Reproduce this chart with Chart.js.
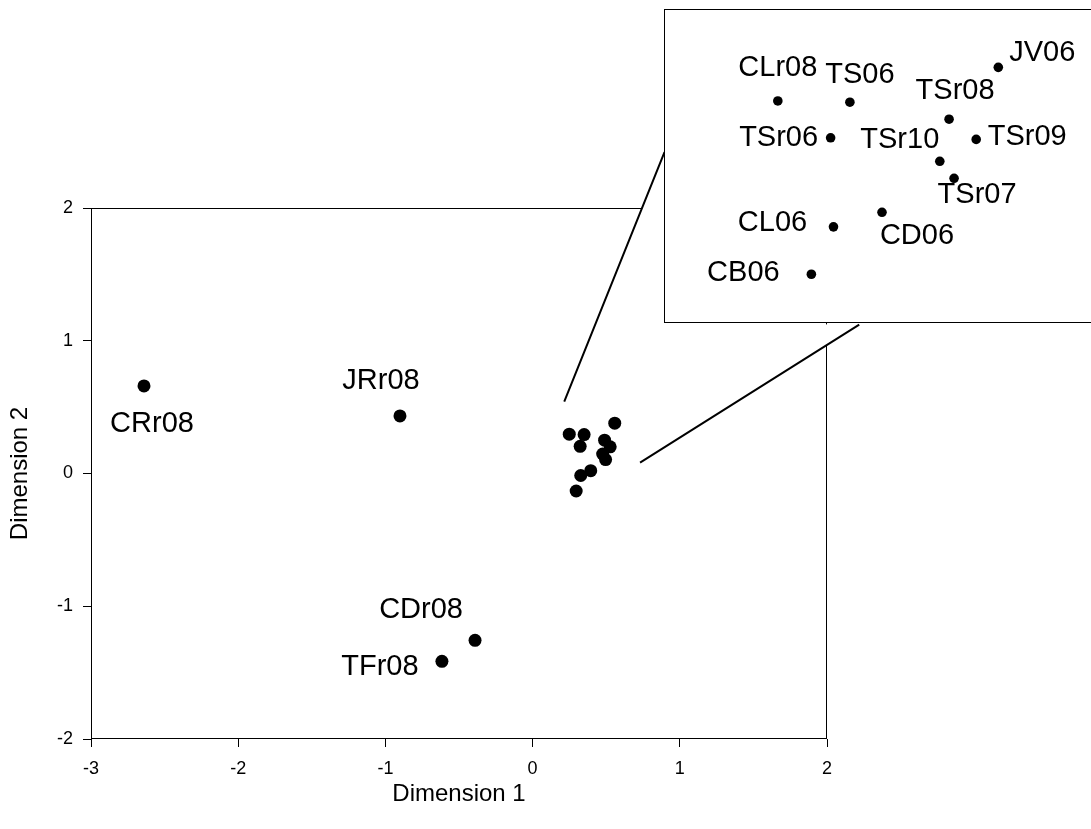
<!DOCTYPE html>
<html>
<head>
<meta charset="utf-8">
<script src="https://cdn.jsdelivr.net/npm/chart.js@4/dist/chart.umd.min.js"></script>
<style>
  body { margin: 0; background: #fff; overflow: hidden; }
  #main { position: absolute; left: 0; top: 0; }
  #inset { position: absolute; left: 664px; top: 9px; }
</style>
</head>
<body>
<canvas id="main" width="1091" height="829"></canvas>
<canvas id="inset" width="440" height="314"></canvas>
<script>
// MDS coordinates per site
const sites = ['CRr08', 'JRr08', 'CDr08', 'TFr08', 'CLr08', 'TS06', 'JV06', 'TSr08', 'TSr06', 'TSr09', 'TSr10', 'TSr07', 'CD06', 'CL06', 'CB06'];
const dim1 = [-2.640, -0.901, -0.391, -0.616, 0.249, 0.350, 0.558, 0.489, 0.323, 0.527, 0.476, 0.496, 0.395, 0.327, 0.296];
const dim2 = [0.660, 0.434, -1.257, -1.415, 0.296, 0.293, 0.379, 0.251, 0.205, 0.201, 0.147, 0.105, 0.021, -0.015, -0.132];
// sites shown in the enlarged box
const zoomed = ['CLr08', 'TS06', 'JV06', 'TSr08', 'TSr06', 'TSr09', 'TSr10', 'TSr07', 'CD06', 'CL06', 'CB06'];
const xTicks = [-3, -2, -1, 0, 1, 2];
const yTicks = [-2, -1, 0, 1, 2];

const family = "'Liberation Sans', Arial, sans-serif";

// label offsets from the dot, px
const mainLabelPos = {
  CRr08: [8, 38], JRr08: [-19, -35], CDr08: [-54, -30], TFr08: [-62, 6]
};
const insetLabelPos = {
  CLr08: [0, -33], TS06: [10, -27], JV06: [44, -14], TSr08: [6, -28],
  TSr06: [-52, 0], TSr10: [-40, -21], TSr09: [51, -2], TSr07: [23, 17],
  CD06: [35, 24], CL06: [-61, -4], CB06: [-68, -1]
};

// callout shape (data units of the main plot): A, B, C, D, E
const callout = [[0.215, 0.542], [0.896, 2.421], [0.896, 1.136], [2.219, 1.121], [0.730, 0.082]];

function pointsFor(list) {
  return list.map(n => {
    const i = sites.indexOf(n);
    return { x: dim1[i], y: dim2[i], name: n };
  });
}

function labelPlugin(offsets) {
  return {
    id: 'pointLabels',
    afterDatasetsDraw(chart) {
      const ctx = chart.ctx;
      const meta = chart.getDatasetMeta(0);
      const data = chart.data.datasets[0].data;
      ctx.save();
      ctx.font = '29px ' + family;
      ctx.fillStyle = '#000';
      ctx.textAlign = 'center';
      ctx.textBaseline = 'middle';
      meta.data.forEach((pt, i) => {
        const off = offsets[data[i].name];
        if (!off) return;
        ctx.fillText(data[i].name, pt.x + off[0], pt.y + off[1]);
      });
      ctx.restore();
    }
  };
}

const frame = {
  id: 'frame',
  beforeDatasetsDraw(chart) {
    const { ctx, chartArea: a, scales: { x, y } } = chart;
    ctx.save();
    ctx.strokeStyle = '#000';
    ctx.lineWidth = 1;
    ctx.strokeRect(Math.round(a.left) + 0.5, Math.round(a.top) + 0.5, Math.round(a.right - a.left) - 1, Math.round(a.bottom - a.top) - 1);
    const p = callout.map(c => [x.getPixelForValue(c[0]), y.getPixelForValue(c[1])]);
    ctx.fillStyle = '#fff';
    ctx.beginPath();
    p.forEach((q, i) => i ? ctx.lineTo(q[0], q[1]) : ctx.moveTo(q[0], q[1]));
    ctx.closePath();
    ctx.fill();
    ctx.lineWidth = 2;
    ctx.beginPath();
    ctx.moveTo(p[0][0], p[0][1]); ctx.lineTo(p[1][0], p[1][1]);
    ctx.moveTo(p[4][0], p[4][1]); ctx.lineTo(p[3][0], p[3][1]);
    ctx.stroke();
    ctx.restore();
  }
};

const box = {
  id: 'box',
  beforeDraw(chart) {
    const ctx = chart.ctx;
    ctx.save();
    ctx.fillStyle = '#fff';
    ctx.fillRect(0, 0, chart.width, chart.height);
    ctx.restore();
  },
  afterDraw(chart) {
    const ctx = chart.ctx;
    ctx.save();
    ctx.strokeStyle = '#000';
    ctx.lineWidth = 1;
    ctx.strokeRect(0.5, 0.5, chart.width - 1, chart.height - 1);
    ctx.restore();
  }
};

new Chart(document.getElementById('main'), {
  type: 'scatter',
  data: {
    datasets: [{
      data: pointsFor(sites),
      backgroundColor: '#000',
      borderColor: '#000',
      borderWidth: 0,
      pointRadius: 6.5,
      pointHoverRadius: 6.5
    }]
  },
  options: {
    responsive: false,
    animation: false,
    events: [],
    devicePixelRatio: 1,
    layout: { padding: { top: 208, right: 264, left: 0, bottom: 0 } },
    plugins: { legend: { display: false }, tooltip: { enabled: false } },
    scales: {
      x: {
        type: 'linear',
        min: xTicks[0],
        max: xTicks[xTicks.length - 1],
        afterBuildTicks: s => { s.ticks = xTicks.map(v => ({ value: v })); },
        afterFit: s => { s.height = 90; },
        grid: { drawOnChartArea: false, tickLength: 8, color: '#000' },
        border: { display: false },
        ticks: { color: '#000', font: { size: 18, family: family }, padding: 11 },
        title: { display: true, text: 'Dimension 1', color: '#000', font: { size: 24, family: family }, padding: { top: 0, bottom: 20 } }
      },
      y: {
        type: 'linear',
        min: yTicks[0],
        max: yTicks[yTicks.length - 1],
        afterBuildTicks: s => { s.ticks = yTicks.map(v => ({ value: v })); },
        afterFit: s => { s.width = 91; },
        grid: { drawOnChartArea: false, tickLength: 8, color: '#000' },
        border: { display: false },
        ticks: { color: '#000', font: { size: 18, family: family }, padding: 10 },
        title: { display: true, text: 'Dimension 2', color: '#000', font: { size: 24, family: family }, padding: { top: 6, bottom: 0 } }
      }
    }
  },
  plugins: [frame, labelPlugin(mainLabelPos)]
});

new Chart(document.getElementById('inset'), {
  type: 'scatter',
  data: {
    datasets: [{
      data: pointsFor(zoomed),
      backgroundColor: '#000',
      borderColor: '#000',
      borderWidth: 0,
      pointRadius: 4.8,
      pointHoverRadius: 4.8
    }]
  },
  options: {
    responsive: false,
    animation: false,
    events: [],
    devicePixelRatio: 1,
    layout: { padding: 0 },
    plugins: { legend: { display: false }, tooltip: { enabled: false } },
    scales: {
      x: { type: 'linear', display: false, min: 0.0962, max: 0.6994 },
      y: { type: 'linear', display: false, min: -0.2406, max: 0.5113 }
    }
  },
  plugins: [box, labelPlugin(insetLabelPos)]
});
</script>
</body>
</html>
